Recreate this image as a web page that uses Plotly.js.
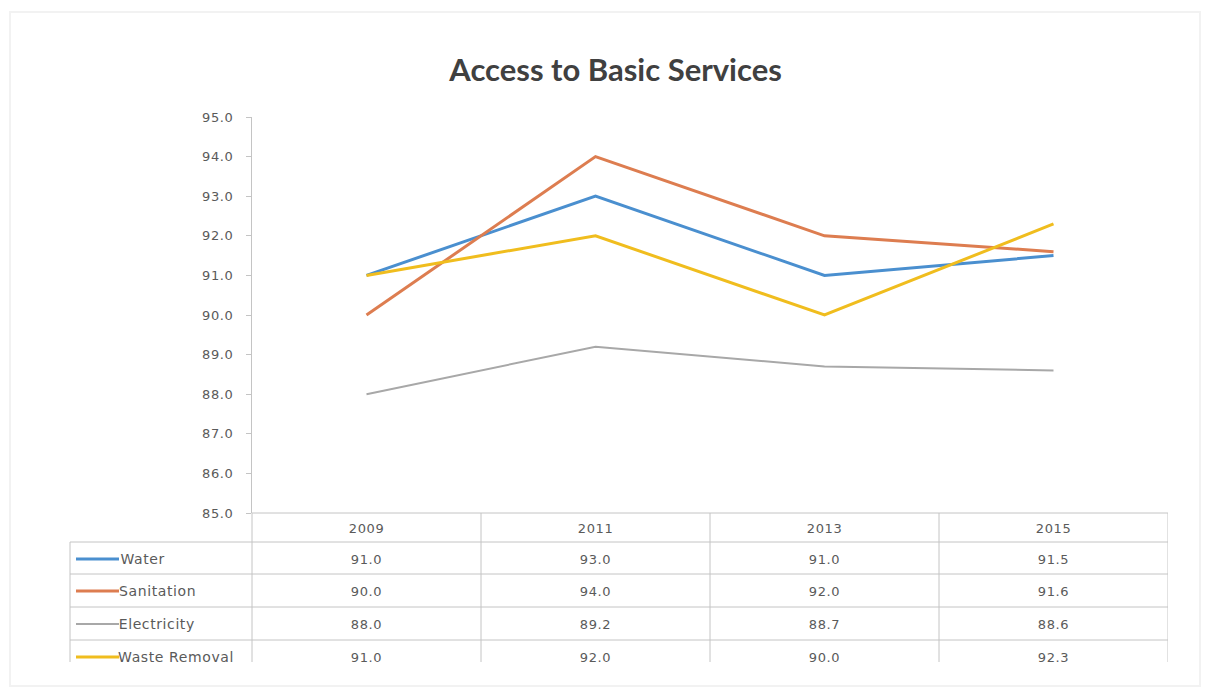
<!DOCTYPE html>
<html>
<head>
<meta charset="utf-8">
<script src="https://cdn.plot.ly/plotly-3.0.1.min.js"></script>
<style>
html,body{margin:0;padding:0;background:#fff;}
#chart{width:1207px;height:697px;}
#chart .annotation-text, #chart .ytick text{letter-spacing:0.6px;}
</style>
</head>
<body>
<div id="chart"></div>
<script>
const years = ["2009", "2011", "2013", "2015"];
const seriesNames = ["Water", "Sanitation", "Electricity", "Waste Removal"];
const water = [91.0, 93.0, 91.0, 91.5];
const sanitation = [90.0, 94.0, 92.0, 91.6];
const electricity = [88.0, 89.2, 88.7, 88.6];
const wasteRemoval = [91.0, 92.0, 90.0, 92.3];
const seriesValues = [water, sanitation, electricity, wasteRemoval];
const seriesColors = ["#4a8fcf", "#dd7d50", "#a8a8a8", "#f0bd1e"];
const seriesWidths = [3, 3, 2, 3];

// layout geometry (pixels)
const W = 1207, H = 697;
const L = 252, R = 1168, T = 117, B = 513;
const pw = R - L, ph = B - T;
const px = v => (v - L) / pw;
const py = v => (B - v) / ph;

const rowLines = [513, 542, 574, 607, 640];
const rowCenters = [528, 559, 591, 624, 657];
const tableBottom = 662;
const lineCol = "#c4c4c4";
const textCol = "#5a5a5a";
const fontFam = "Lato, 'Liberation Sans', sans-serif";
const tblFont = "'DejaVu Sans', 'Liberation Sans', sans-serif";

const traces = seriesValues.map((vals, i) => ({
  type: "scatter", mode: "lines", x: years, y: vals, name: seriesNames[i],
  line: {color: seriesColors[i], width: seriesWidths[i]}, hoverinfo: "x+y+name"
}));

const shapes = [];
const annotations = [];
rowLines.forEach((yy, k) => {
  shapes.push({type: "line", xref: "paper", yref: "paper",
    x0: k === 0 ? px(L) : px(70), x1: px(R), y0: py(yy), y1: py(yy),
    line: {color: lineCol, width: 1}});
});
shapes.push({type: "line", xref: "paper", yref: "paper", x0: px(70), x1: px(70),
  y0: py(542), y1: py(tableBottom), line: {color: lineCol, width: 1}});
shapes.push({type: "line", xref: "paper", yref: "paper", x0: 0, x1: 0,
  y0: py(B), y1: py(tableBottom), line: {color: lineCol, width: 1}});
for (let i = 0; i < years.length; i++) {
  shapes.push({type: "line", xref: "x", yref: "paper", x0: i + 0.5, x1: i + 0.5,
    y0: py(B), y1: py(tableBottom), line: {color: lineCol, width: 1}});
}
shapes.push({type: "rect", xref: "paper", yref: "paper", x0: px(10), x1: px(1200),
  y0: py(686), y1: py(12), line: {color: "#f2f2f2", width: 2}, layer: "below"});

years.forEach((yr, i) => {
  annotations.push({xref: "x", yref: "paper", x: i, y: py(rowCenters[0]), yanchor: "middle", text: yr,
    showarrow: false, font: {family: tblFont, size: 13, color: textCol}});
});
seriesValues.forEach((vals, s) => {
  const yc = rowCenters[s + 1];
  shapes.push({type: "line", xref: "paper", yref: "paper", x0: px(76), x1: px(119),
    y0: py(yc), y1: py(yc), line: {color: seriesColors[s], width: seriesWidths[s]}});
  annotations.push({xref: "paper", yref: "paper", x: px(120), y: py(yc), xanchor: "left", yanchor: "middle",
    text: seriesNames[s], showarrow: false, font: {family: tblFont, size: 14, color: textCol}});
  vals.forEach((v, i) => {
    annotations.push({xref: "x", yref: "paper", x: i, y: py(yc), yanchor: "middle", text: v.toFixed(1),
      showarrow: false, font: {family: tblFont, size: 13, color: textCol}});
  });
});

const layout = {
  width: W, height: H,
  margin: {l: L, r: W - R, t: T, b: H - B, pad: 0},
  paper_bgcolor: "#ffffff", plot_bgcolor: "#ffffff",
  showlegend: false,
  title: {text: "<b>Access to Basic Services</b>", x: 0.51, xanchor: "center", y: 1 - 70 / H, yanchor: "middle",
    font: {family: fontFam, size: 31, color: "#404040"}},
  xaxis: {type: "category", range: [-0.5, years.length - 0.5], showticklabels: false,
    showgrid: false, zeroline: false, showline: false, ticks: "", fixedrange: true},
  yaxis: {range: [85, 95], dtick: 1, tick0: 85, tickformat: ".1f", showgrid: false, zeroline: false,
    showline: true, linecolor: lineCol, linewidth: 1, ticks: "outside", ticklen: 5, tickcolor: lineCol,
    tickfont: {family: tblFont, size: 13, color: textCol}, ticklabelstandoff: 10},
  shapes: shapes, annotations: annotations
};

Plotly.newPlot("chart", traces, layout, {displayModeBar: false, staticPlot: true});
</script>
</body>
</html>
